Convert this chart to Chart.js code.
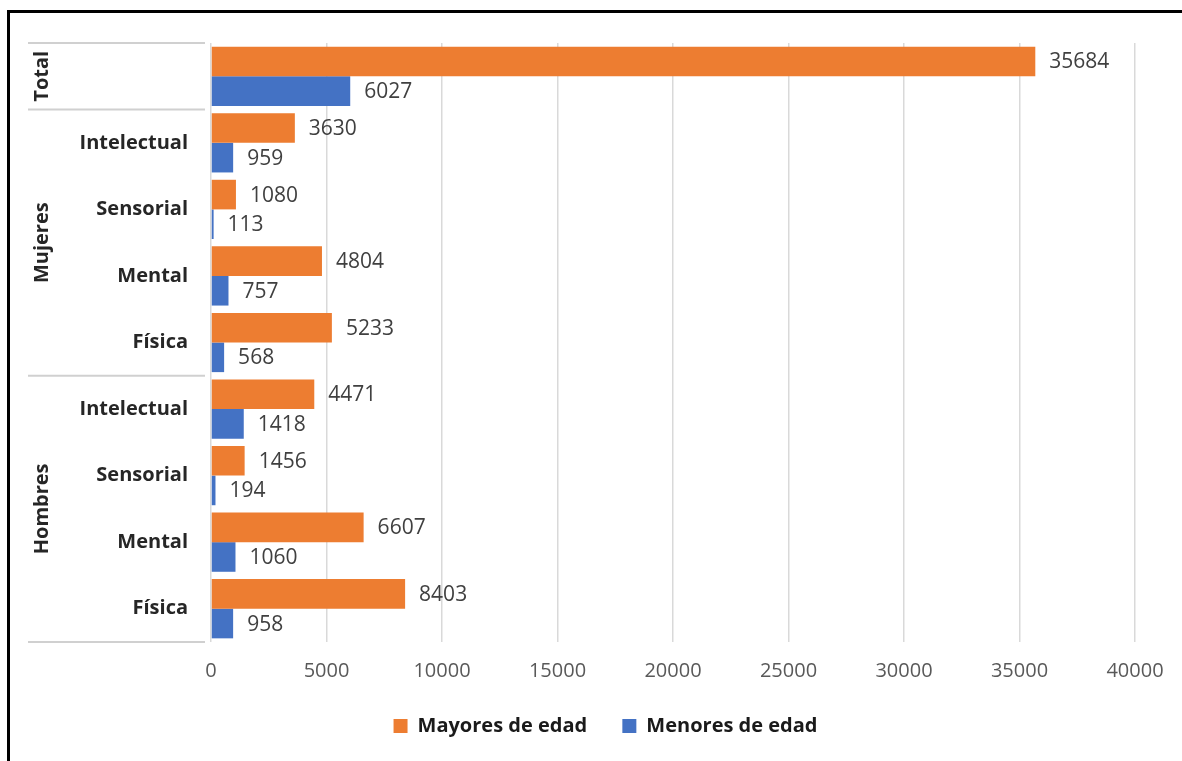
<!DOCTYPE html>
<html>
<head>
<meta charset="utf-8">
<script src="https://cdn.jsdelivr.net/npm/chart.js@4.4.1/dist/chart.umd.min.js"></script>
<style>
  html, body { margin: 0; padding: 0; background: #fff; }
  #frame { position: absolute; left: 7px; top: 10px; width: 1200px; height: 800px;
           border-left: 3px solid #000; border-top: 3px solid #000; }
  #barChart { position: absolute; left: 0; top: 0; }
</style>
</head>
<body>
<div id="frame"></div>
<canvas id="barChart" width="1182" height="761"></canvas>
<script>
// categories (sub labels) and the groups they belong to
var categories = ['', 'Intelectual', 'Sensorial', 'Mental', 'Física', 'Intelectual', 'Sensorial', 'Mental', 'Física'];
var groups = ['Total', 'Mujeres', 'Hombres'];
var groupSizes = [1, 4, 4];

// series values
var mayores = [35684, 3630, 1080, 4804, 5233, 4471, 1456, 6607, 8403];
var menores = [6027, 959, 113, 757, 568, 1418, 194, 1060, 958];

var xMin = 0, xMax = 40000, xStep = 5000;

var FONT = '"Open Sans", sans-serif';

// value labels next to the bars
var valueLabels = {
    id: 'valueLabels',
    afterDatasetsDraw: function (chart) {
        var ctx = chart.ctx;
        ctx.save();
        ctx.font = '21px ' + FONT;
        ctx.fillStyle = '#404040';
        ctx.textBaseline = 'middle';
        ctx.textAlign = 'left';
        chart.data.datasets.forEach(function (ds, i) {
            var meta = chart.getDatasetMeta(i);
            meta.data.forEach(function (bar, j) {
                ctx.fillText(String(ds.data[j]), bar.x + 14, bar.y + 1);
            });
        });
        ctx.restore();
    }
};

// group labels (rotated) and separator lines on the category axis
var groupAxis = {
    id: 'groupAxis',
    afterDraw: function (chart) {
        var ctx = chart.ctx;
        var y = chart.scales.y;
        var step = y.getPixelForValue(1) - y.getPixelForValue(0);
        var left = 28, right = chart.chartArea.left - 6;
        ctx.save();
        ctx.strokeStyle = '#d0d0d0';
        ctx.lineWidth = 2;
        var start = 0;
        var top = y.getPixelForValue(0) - step / 2;
        ctx.beginPath();
        ctx.moveTo(left, top); ctx.lineTo(right, top);
        ctx.stroke();
        groups.forEach(function (g, i) {
            var end = start + groupSizes[i];
            var y0 = y.getPixelForValue(start) - step / 2;
            var y1 = y.getPixelForValue(end - 1) + step / 2;
            ctx.beginPath();
            ctx.moveTo(left, y1); ctx.lineTo(right, y1);
            ctx.stroke();
            ctx.save();
            ctx.translate(42, (y0 + y1) / 2);
            ctx.rotate(-Math.PI / 2);
            ctx.font = 'bold 20px ' + FONT;
            ctx.fillStyle = '#262626';
            ctx.textAlign = 'center';
            ctx.textBaseline = 'middle';
            ctx.fillText(g, 0, 0);
            ctx.restore();
            start = end;
        });
        ctx.restore();
    }
};

// nudge the legend a bit to the right, like the original
var legendShift = {
    id: 'legendShift',
    afterLayout: function (chart) {
        chart.legend.left += 38;
        chart.legend.right += 38;
    }
};

var ctx = document.getElementById('barChart').getContext('2d');
var barChart = new Chart(ctx, {
    type: 'bar',
    data: {
        labels: categories,
        datasets: [{
            label: 'Mayores de edad',
            data: mayores,
            backgroundColor: '#ED7D31',
            categoryPercentage: 0.89,
            barPercentage: 1.0
        }, {
            label: 'Menores de edad',
            data: menores,
            backgroundColor: '#4472C4',
            categoryPercentage: 0.89,
            barPercentage: 1.0
        }]
    },
    options: {
        indexAxis: 'y',
        responsive: false,
        animation: false,
        devicePixelRatio: 1,
        layout: { padding: { left: 0, right: 47, top: 43, bottom: 15 } },
        scales: {
            x: {
                min: xMin,
                max: xMax,
                ticks: {
                    stepSize: xStep,
                    padding: 17,
                    color: '#595959',
                    font: { family: FONT, size: 20 },
                    callback: function (v) { return String(v); }
                },
                grid: { color: '#d9d9d9', lineWidth: 1.5, drawTicks: false },
                border: { display: false },
                afterFit: function (s) { s.height = 64; }
            },
            y: {
                ticks: {
                    padding: 23,
                    color: '#262626',
                    font: { family: FONT, size: 20, weight: 'bold' }
                },
                grid: { display: false, drawTicks: false },
                border: { display: false },
                afterFit: function (s) { s.width = 211; }
            }
        },
        plugins: {
            legend: {
                position: 'bottom',
                labels: {
                    boxWidth: 14,
                    boxHeight: 14,
                    padding: 10,
                    color: '#1a1a1a',
                    font: { family: FONT, size: 20, weight: 'bold' },
                    generateLabels: function (chart) {
                        var items = Chart.defaults.plugins.legend.labels.generateLabels(chart);
                        // wider gap between the two entries
                        items[0].text = items[0].text + '\u2003 ';
                        return items;
                    }
                }
            },
            tooltip: { enabled: false }
        }
    },
    plugins: [valueLabels, groupAxis, legendShift]
});
</script>
</body>
</html>
